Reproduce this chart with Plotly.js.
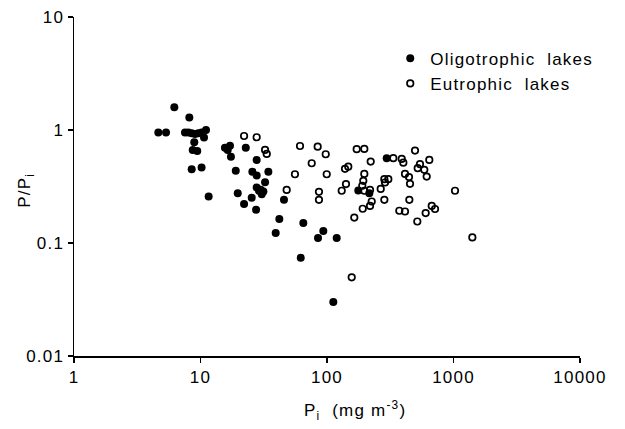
<!DOCTYPE html>
<html>
<head>
<meta charset="utf-8">
<script src="https://cdn.plot.ly/plotly-3.0.1.min.js"></script>
<style>
html,body{margin:0;padding:0;background:#fff;}
#chart{width:625px;height:429px;}
svg text{letter-spacing:1.2px;}
</style>
</head>
<body>
<div id="chart"></div>
<script>
// Oligotrophic lakes (filled dots)
const oligoX = [4.64, 5.34, 6.21, 8.16, 7.54, 8.01, 8.52, 9.05, 9.61, 10.2, 11.05, 10.66, 8.93, 8.68, 9.43,
  8.52, 10.2, 11.6, 15.6, 17.1, 16.4, 17.4, 22.8, 27.8, 19.0, 25.7, 27.8, 34.4, 32.4, 27.8, 29.0, 30.5, 31.4,
  19.7, 25.4, 22.1, 27.5, 45.7, 42.0, 65.0, 39.3, 93.5, 84.9, 119.3, 62.0, 112.2, 296.5, 176.7, 216];
const oligoY = [0.95, 0.95, 1.59, 1.29, 0.95, 0.95, 0.935, 0.92, 0.935, 0.95, 1.0, 0.86, 0.78, 0.666, 0.653,
  0.45, 0.465, 0.258, 0.698, 0.727, 0.666, 0.581, 0.698, 0.543, 0.437, 0.428, 0.395, 0.428, 0.345, 0.31, 0.29, 0.27, 0.285,
  0.276, 0.252, 0.221, 0.197, 0.241, 0.163, 0.150, 0.1225, 0.128, 0.111, 0.111, 0.074, 0.030, 0.563, 0.291, 0.276];

// Eutrophic lakes (open circles)
const eutroX = [22.1, 27.8, 32.4, 33.4, 61.2, 84.4, 97.7, 75.7, 55.8, 99.5, 48.0, 29.9, 86.4, 86.4, 164.3, 156.8,
  171.7, 197.2, 221.5, 138.8, 147.3, 197.2, 193.6, 190.1, 141.3, 130.7, 197.2, 218.8, 284, 305.3, 287.4, 265.8,
  225.6, 218.8, 191.6, 284, 334.3, 389.7, 401.2, 496.5, 413.6, 444.8, 453.2, 447.6, 373, 413.6, 517.4, 543.3,
  521.4, 587.5, 613.8, 643.7, 672.9, 714.5, 602.6, 1028, 1409];
const eutroY = [0.885, 0.863, 0.666, 0.614, 0.722, 0.712, 0.610, 0.508, 0.406, 0.406, 0.295, 0.295, 0.284, 0.241, 0.168, 0.0497,
  0.676, 0.68, 0.525, 0.453, 0.474, 0.409, 0.355, 0.321, 0.332, 0.29, 0.29, 0.295, 0.367, 0.367, 0.343, 0.301,
  0.233, 0.213, 0.201, 0.241, 0.563, 0.555, 0.514, 0.657, 0.409, 0.383, 0.334, 0.241, 0.193, 0.19, 0.155, 0.498,
  0.459, 0.444, 0.387, 0.543, 0.213, 0.2, 0.184, 0.29, 0.112];

const xTickVals = [1, 10, 100, 1000, 10000];
const xTickText = ['1', '10', '100', '1000', '10000'];
const yTickVals = [0.01, 0.1, 1, 10];
const yTickText = ['0.01', '0.1', '1', '10'];

const seriesNames = ['Oligotrophic  lakes', 'Eutrophic  lakes'];
const xTitle = 'P<sub>i</sub>  (mg m<sup>-3</sup>)';
const yTitle = 'P/P<sub>i</sub>';

const FONT = 'Liberation Sans, Arial, Helvetica, sans-serif';

const traces = [
  {
    x: oligoX, y: oligoY, type: 'scatter', mode: 'markers', name: seriesNames[0],
    marker: {symbol: 'circle', size: 8, color: '#000'}
  },
  {
    x: eutroX, y: eutroY, type: 'scatter', mode: 'markers', name: seriesNames[1],
    marker: {symbol: 'circle-open', size: 6.5, color: '#000', line: {width: 1.7, color: '#000'}}
  }
];

const layout = {
  width: 625, height: 429,
  margin: {l: 74, r: 45, t: 17, b: 73},
  paper_bgcolor: '#fff', plot_bgcolor: '#fff',
  font: {family: FONT, size: 17, color: '#000'},
  showlegend: true,
  legend: {
    x: 0.625, xanchor: 'left', y: 0.93, yanchor: 'top',
    bgcolor: 'rgba(0,0,0,0)', font: {family: FONT, size: 17, color: '#000'},
    itemclick: false, tracegroupgap: 0
  },
  xaxis: {
    type: 'log', range: [0, 4],
    tickvals: xTickVals, ticktext: xTickText,
    ticks: 'outside', ticklen: 5, tickwidth: 1.5, tickcolor: '#000',
    showline: true, linecolor: '#000', linewidth: 1.5,
    showgrid: false, zeroline: false, mirror: false,
    tickfont: {family: FONT, size: 17, color: '#000'}
  },
  yaxis: {
    type: 'log', range: [-2, 1],
    tickvals: yTickVals, ticktext: yTickText,
    ticks: 'outside', ticklen: 5, tickwidth: 1.5, tickcolor: '#000',
    showline: true, linecolor: '#000', linewidth: 1.5,
    showgrid: false, zeroline: false, mirror: false,
    tickfont: {family: FONT, size: 17, color: '#000'}
  },
  annotations: [
    {
      text: xTitle, xref: 'paper', yref: 'paper', x: 0.555, y: -0.16,
      xanchor: 'center', yanchor: 'middle', showarrow: false,
      font: {family: FONT, size: 17, color: '#000'}
    },
    {
      text: yTitle, xref: 'paper', yref: 'paper', x: -0.095, y: 0.49,
      xanchor: 'center', yanchor: 'middle', showarrow: false, textangle: -90,
      font: {family: FONT, size: 17, color: '#000'}
    }
  ]
};

Plotly.newPlot('chart', traces, layout, {staticPlot: true, displayModeBar: false});
</script>
</body>
</html>
